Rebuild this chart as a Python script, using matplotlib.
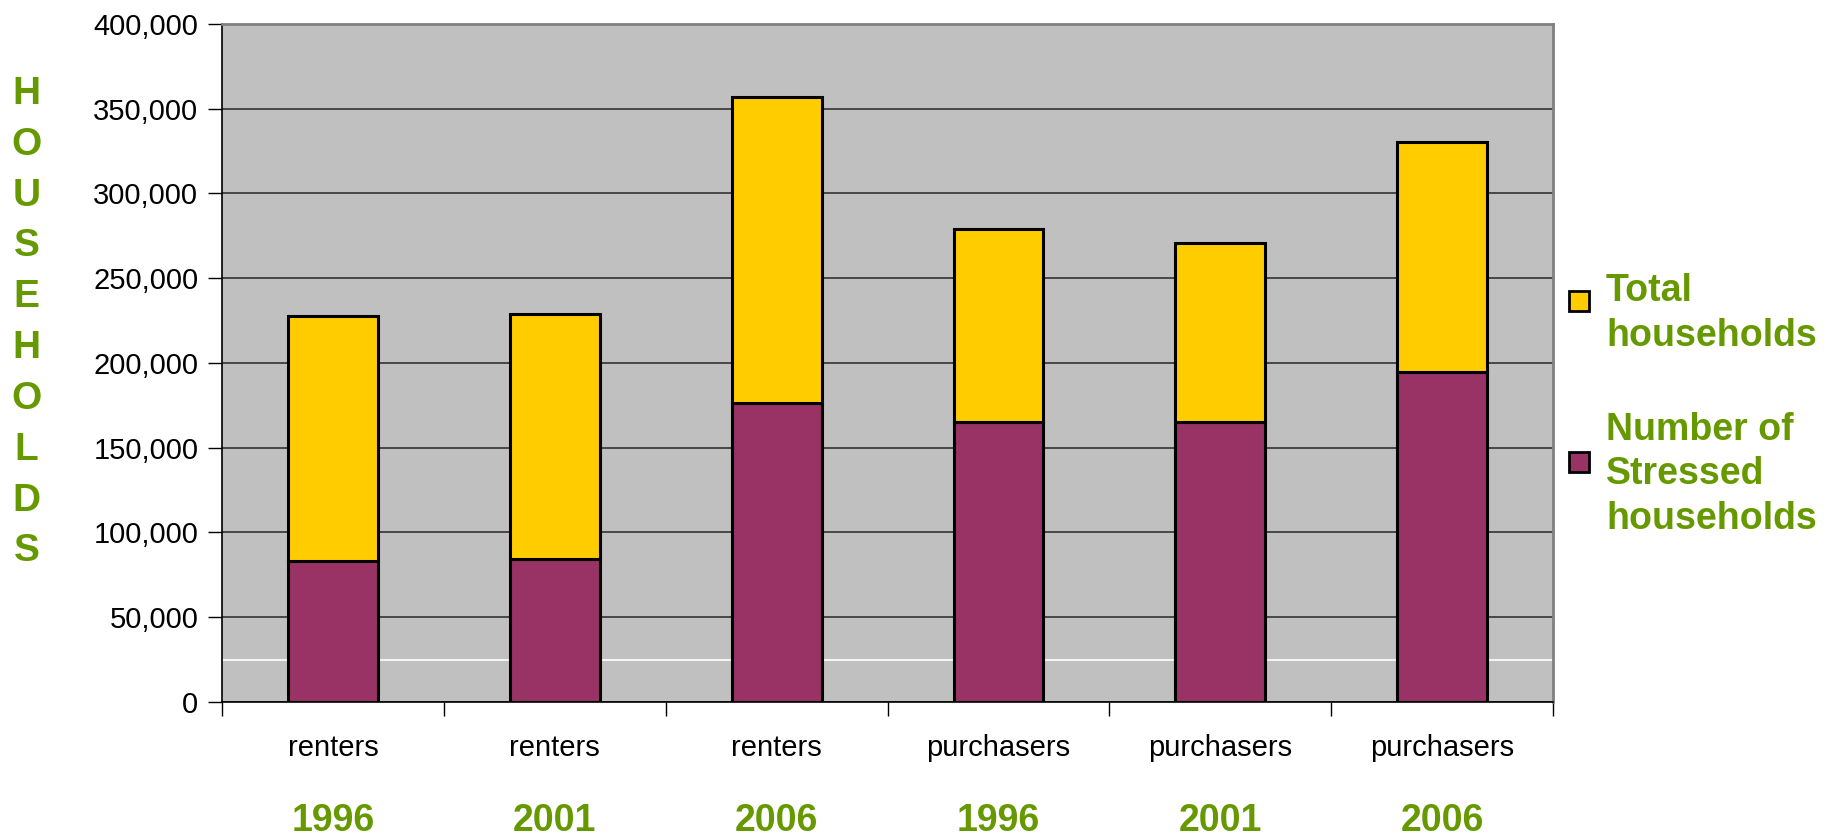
import matplotlib
matplotlib.use('Agg')
import matplotlib.pyplot as plt
from matplotlib.patches import Rectangle
from matplotlib.ticker import FuncFormatter, MultipleLocator

plt.rcParams['font.family'] = ['Liberation Sans', 'DejaVu Sans']

groups = ['renters', 'renters', 'renters', 'purchasers', 'purchasers', 'purchasers']
years = ['1996', '2001', '2006', '1996', '2001', '2006']
stressed = [83400, 84500, 176200, 165200, 165200, 194500]
total = [227900, 229100, 356900, 279100, 270800, 330400]

green = '#669900'
purple = '#993366'
yellow = '#FFCC00'

fig = plt.figure(figsize=(18.33, 8.38), dpi=100)
ax = fig.add_axes([0.1211, 0.1623, 0.7262, 0.8091])
ax.set_facecolor('#C0C0C0')

x = list(range(len(groups)))
upper = [t - s for t, s in zip(total, stressed)]
ax.bar(x, stressed, width=0.405, color=purple, edgecolor='black', linewidth=2.2, zorder=3)
ax.bar(x, upper, bottom=stressed, width=0.405, color=yellow, edgecolor='black', linewidth=2.2, zorder=3)

ax.set_xlim(-0.5, len(groups) - 0.5)
ax.set_ylim(0, 400000)
ax.yaxis.set_major_locator(MultipleLocator(50000))
ax.yaxis.set_major_formatter(FuncFormatter(lambda v, p: f'{int(v):,}'))
ax.yaxis.grid(True, color='#333333', linewidth=1.2, zorder=1)
ax.axhline(25000, color='white', linewidth=1.2, zorder=2)
ax.tick_params(axis='y', direction='out', length=10, width=1, labelsize=21, pad=7, colors='black')

# boundaries get the tick marks, centres get the labels
ax.set_xticks([i - 0.5 for i in range(len(groups) + 1)])
ax.set_xticklabels([])
ax.tick_params(axis='x', which='major', direction='out', length=10, width=1)
ax.set_xticks(x, minor=True)
ax.set_xticklabels(groups, minor=True, fontsize=21)
ax.tick_params(axis='x', which='minor', length=0, pad=23)

for i, yr in enumerate(years):
    ax.text(i, -0.176, yr, transform=ax.get_xaxis_transform(), ha='center', va='center',
            fontsize=27, fontweight='bold', color=green)

for side in ['left', 'bottom']:
    ax.spines[side].set_color('black')
    ax.spines[side].set_linewidth(1.2)
for side in ['top', 'right']:
    ax.spines[side].set_color('#808080')
    ax.spines[side].set_linewidth(2)

fig.text(0.0145, 0.615, '\n'.join('HOUSEHOLDS'), ha='center', va='center',
         fontsize=28, fontweight='bold', color=green, linespacing=1.53)

# legend drawn by hand so the boxes sit where the original puts them
legend_labels = ['Total\nhouseholds', 'Number of\nStressed\nhouseholds']
legend_colors = [yellow, purple]
label_y = [0.626, 0.434]
box_y = [0.6408, 0.4487]
for lab, col, ly, by in zip(legend_labels, legend_colors, label_y, box_y):
    fig.patches.append(Rectangle((0.856, by - 0.012), 0.0109, 0.0239, transform=fig.transFigure,
                                 facecolor=col, edgecolor='black', linewidth=2))
    fig.text(0.8762, ly, lab, ha='left', va='center', fontsize=27, fontweight='bold',
             color=green, linespacing=1.3)

fig.savefig('out.png', dpi=100, facecolor='white')
